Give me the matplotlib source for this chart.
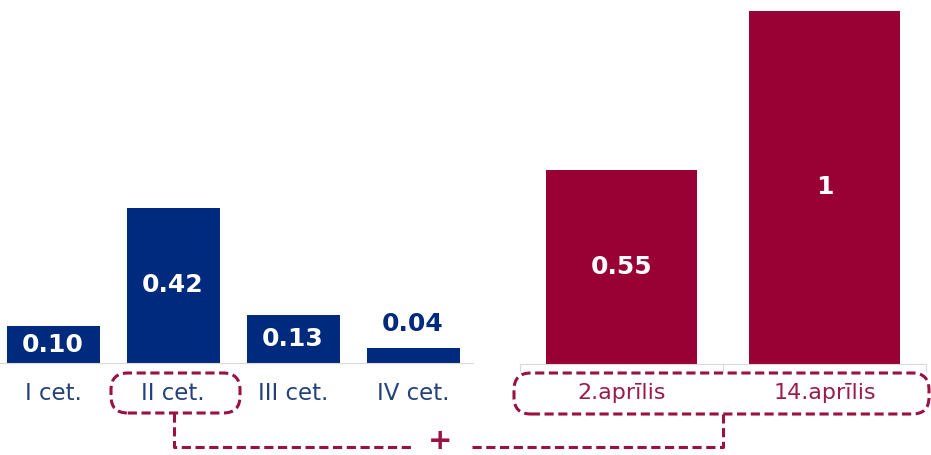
import matplotlib
matplotlib.use("Agg")
import matplotlib.pyplot as plt
from matplotlib.patches import FancyBboxPatch
from matplotlib.lines import Line2D
import matplotlib.transforms as mtransforms

# ---- data ----
quarters = ["I cet.", "II cet.", "III cet.", "IV cet."]
q_values = [0.10, 0.42, 0.13, 0.04]
q_labels = ["0.10", "0.42", "0.13", "0.04"]

dates = ["2.aprīlis", "14.aprīlis"]
d_values = [0.55, 1.0]
d_labels = ["0.55", "1"]

NAVY = "#002A7D"
NAVY_TXT = "#24427A"
CRIMSON = "#990033"
CRIMSON_TXT = "#9B1B4A"
DASH = "#9A1240"
GRID = "#D9D9D9"

W, H = 931, 455
fig = plt.figure(figsize=(W / 100, H / 100), dpi=100)
plt.rcParams['font.family'] = ['DejaVu Sans']


def fx(px):
    return px / W


def fy(py):
    return 1 - py / H


# ---- left panel ----
axL = fig.add_axes([fx(0), fy(363), fx(473), 363 / H])
xL = list(range(len(quarters)))
axL.bar(xL, q_values, width=0.775, color=NAVY)
axL.set_xlim(-0.442, len(quarters) - 0.5)
axL.set_ylim(0, 363 / 370)
for s in ["top", "right", "left"]:
    axL.spines[s].set_visible(False)
axL.spines["bottom"].set_color(GRID)
axL.spines["bottom"].set_linewidth(0.8)
axL.set_yticks([])
axL.set_xticks([])
trL = mtransforms.blended_transform_factory(axL.transData, fig.transFigure)
for i, (lab, v, t) in enumerate(zip(quarters, q_values, q_labels)):
    axL.text(i, fy(393), lab, transform=trL, ha="center", va="center",
             fontsize=16.5, color=NAVY_TXT)
    if v >= 0.08:
        axL.text(i, v / 2, t, ha="center", va="center", fontsize=18,
                 fontweight="bold", color="white")
    else:
        axL.annotate(t, (i, v), xytext=(0, 9), textcoords="offset points",
                     ha="center", va="bottom", fontsize=18,
                     fontweight="bold", color=NAVY)

# ---- right panel ----
axR = fig.add_axes([fx(520), fy(364), fx(406), 364 / H])
xR = list(range(len(dates)))
axR.bar(xR, d_values, width=0.745, color=CRIMSON)
axR.set_xlim(-0.5, len(dates) - 0.5)
axR.set_ylim(0, 364 / 353)
for s in ["top", "right", "left"]:
    axR.spines[s].set_visible(False)
axR.spines["bottom"].set_color(GRID)
axR.spines["bottom"].set_linewidth(0.8)
axR.set_yticks([])
axR.set_xticks([])
axR.set_xticks([-0.5, 0.5, 1.5], minor=True)
axR.tick_params(axis="x", which="minor", length=6, width=0.8, color=GRID,
                direction="out")
trR = mtransforms.blended_transform_factory(axR.transData, fig.transFigure)
for i, (lab, v, t) in enumerate(zip(dates, d_values, d_labels)):
    axR.text(i, fy(393), lab, transform=trR, ha="center", va="center",
             fontsize=16, color=CRIMSON_TXT)
    axR.text(i, v / 2, t, ha="center", va="center", fontsize=18,
             fontweight="bold", color="white")

# ---- dashed annotation boxes ----
ls = (0, (3.0, 1.5))
lw = 2.2


def rbox(x0, y0, x1, y1):
    p = FancyBboxPatch((fx(x0), fy(y1)), fx(x1 - x0), (y1 - y0) / H,
                       boxstyle="round,pad=0,rounding_size=0.018",
                       transform=fig.transFigure, fill=False,
                       edgecolor=DASH, linewidth=lw, linestyle=ls,
                       mutation_aspect=W / H)
    fig.add_artist(p)


rbox(111, 373, 240, 413)
rbox(514, 373, 929, 414)

fig.add_artist(Line2D([fx(174), fx(174), fx(412)], [fy(413), fy(447), fy(447)],
                      transform=fig.transFigure, color=DASH, linewidth=lw,
                      linestyle=ls))
fig.add_artist(Line2D([fx(472), fx(723), fx(723)], [fy(447), fy(447), fy(414)],
                      transform=fig.transFigure, color=DASH, linewidth=lw,
                      linestyle=ls))
fig.text(fx(440), fy(441), "+", ha="center", va="center", fontsize=21,
         fontweight="bold", color=DASH)

fig.savefig("out.png", dpi=100)
